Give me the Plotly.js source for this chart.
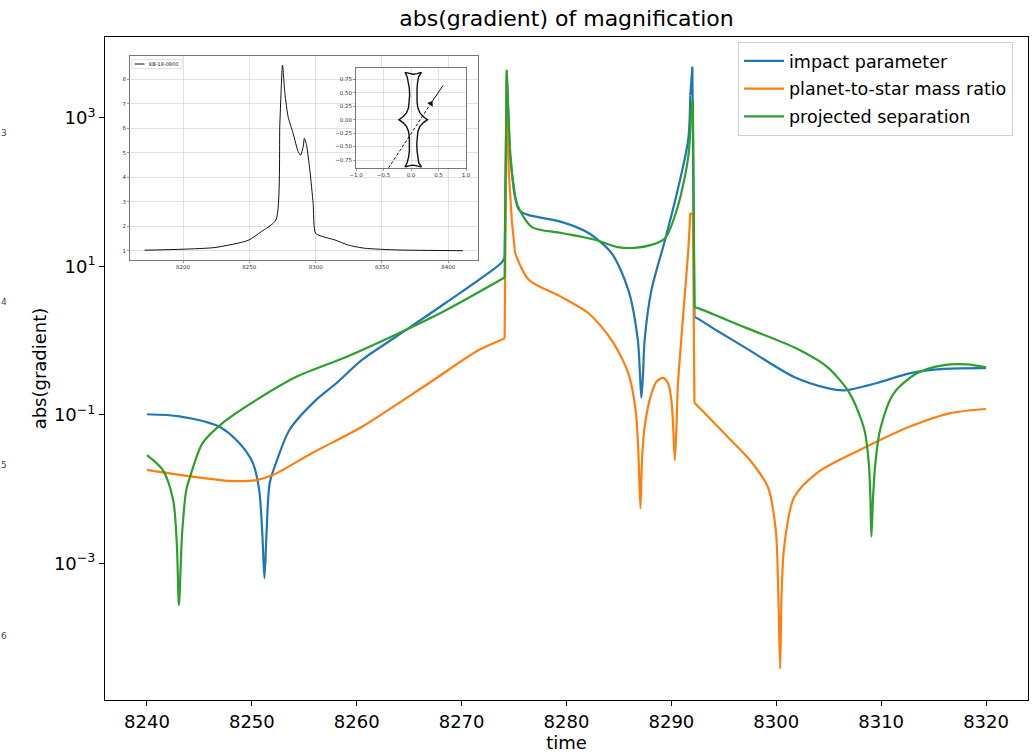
<!DOCTYPE html>
<html>
<head>
<meta charset="utf-8">
<script src="https://cdn.plot.ly/plotly-3.0.1.min.js"></script>
<style>
  html, body { margin: 0; padding: 0; background: #ffffff; }
  #chart { width: 1036px; height: 753px; }
</style>
</head>
<body>
<div id="chart"></div>
<script>
// |dA/dp| of the magnification for three lens parameters, sampled over time
const timeImpact = [8240, 8243.1, 8246.9, 8248.8, 8250.1, 8250.7, 8251.0, 8251.2, 8251.4, 8251.7,
  8252.3, 8253.6, 8256.1, 8258.0, 8260.5, 8263.7, 8268.5, 8273.8, 8274.1, 8274.3,
  8274.6, 8275.0, 8275.4, 8275.7, 8276.4, 8279.5, 8282.1, 8284.3, 8285.9, 8286.8,
  8287.0, 8287.14, 8287.3, 8287.45, 8288.1, 8289.4, 8290.6, 8291.6, 8291.8, 8292.0,
  8292.2, 8292.6, 8294.4, 8297.0, 8301.7, 8304.9, 8306.5, 8309.6, 8312.7, 8316.0, 8320];
const gradImpact = [0.102, 0.0955, 0.0692, 0.0417, 0.0224, 0.00977, 0.00251, 0.000631, 0.00251, 0.0120,
  0.0224, 0.0631, 0.158, 0.263, 0.550, 1.12, 3.24, 11.2, 13.2, 3981,
  316, 100, 60.3, 53.7, 49.0, 39.8, 28.2, 15.1, 4.79, 1.02,
  0.363, 0.170, 0.363, 1.02, 4.79, 22.9, 107, 501, 1995, 4898,
  2.09, 1.95, 1.35, 0.813, 0.324, 0.229, 0.214, 0.269, 0.363, 0.417, 0.427];

const timeMassRatio = [8240, 8244.7, 8247.9, 8250.4, 8252.0, 8255.8, 8260.5, 8266.9, 8271.6, 8274.1,
  8274.3, 8274.5, 8274.8, 8275.1, 8276.4, 8279.5, 8282.1, 8284.3, 8285.9, 8286.6,
  8286.85, 8287.05, 8287.2, 8287.45, 8288.1, 8288.6, 8289.2, 8289.7, 8290.0, 8290.15,
  8290.33, 8290.5, 8290.62, 8291.1, 8291.6, 8291.8, 8292.05, 8292.2, 8292.6, 8295.4,
  8297.5, 8299.2, 8299.95, 8300.2, 8300.37, 8300.5, 8300.75, 8301.7, 8303.9, 8308.0,
  8312.7, 8316.5, 8320];
const gradMassRatio = [0.0182, 0.0145, 0.0129, 0.0132, 0.0155, 0.0309, 0.0692, 0.269, 0.741, 1.07,
  3162, 182, 39.8, 15.1, 6.61, 3.89, 2.34, 1.02, 0.363, 0.112,
  0.0316, 0.00550, 0.0251, 0.0692, 0.195, 0.282, 0.316, 0.263, 0.158, 0.0794,
  0.0245, 0.0794, 0.251, 2.0, 15.8, 52.5, 50.1, 0.145, 0.128, 0.0501,
  0.0245, 0.0107, 0.00282, 0.000355, 0.0000380, 0.000355, 0.00166, 0.00776, 0.0166, 0.0339,
  0.0692, 0.105, 0.120];

const timeSeparation = [8240, 8241.5, 8242.5, 8242.85, 8243.05, 8243.35, 8243.75, 8244.1, 8245.3, 8247.2,
  8250.4, 8254.2, 8259.0, 8263.7, 8268.5, 8274.1, 8274.3, 8274.6, 8274.8, 8275.1,
  8275.4, 8276.7, 8279.5, 8282.7, 8284.9, 8286.5, 8288.1, 8289.4, 8290.6, 8291.6,
  8291.9, 8292.05, 8292.2, 8292.6, 8297.0, 8301.7, 8304.9, 8307.0, 8308.4, 8308.82,
  8308.97, 8309.07, 8309.23, 8309.45, 8309.9, 8311.2, 8313.4, 8316.0, 8318.2, 8320];
const gradSeparation = [0.0288, 0.0182, 0.00708, 0.00178, 0.000275, 0.00251, 0.00977, 0.0145, 0.0417, 0.0776,
  0.158, 0.324, 0.603, 1.20, 2.57, 7.08, 4467, 398, 182, 87.1,
  63.1, 33.9, 28.2, 22.9, 18.2, 17.8, 19.5, 24.0, 63.1, 295,
  1413, 1738, 2.82, 2.72, 1.51, 0.813, 0.437, 0.195, 0.0631, 0.0224,
  0.00794, 0.00229, 0.00794, 0.0224, 0.0631, 0.195, 0.363, 0.468, 0.479, 0.437];

const seriesNames = ['impact parameter', 'planet-to-star mass ratio', 'projected separation'];
const xTicks = [8240, 8250, 8260, 8270, 8280, 8290, 8300, 8310, 8320];
const yTicks = [1e-3, 1e-1, 1e1, 1e3];
const yTickText = ['10<sup>\u22123</sup>', '10<sup>\u22121</sup>', '10<sup>1</sup>', '10<sup>3</sup>'];

// Light curve of the event (inset)
const lcTime = [8171, 8200, 8224, 8249, 8259, 8270, 8273, 8275, 8276.8, 8279.2,
  8283, 8286.8, 8288.6, 8290.6, 8291.4, 8293.1, 8295.6, 8298.1, 8299.9, 8307,
  8314.5, 8324.5, 8337, 8362, 8411];
const lcMag = [1.02, 1.06, 1.13, 1.42, 1.78, 2.25, 6.2, 8.58, 7.42, 6.47,
  5.79, 5.04, 4.9, 5.24, 5.59, 5.31, 4.29, 2.93, 1.71, 1.55,
  1.44, 1.23, 1.1, 1.03, 1.0];
const lcName = 'KB-18-0800';
const lcXTicks = [8200, 8250, 8300, 8350, 8400];
const lcYTicks = [1, 2, 3, 4, 5, 6, 7, 8];

// Caustic curve and source trajectory (inset)
const causticX = [-0.11, -0.03, 0.04, 0.11, 0.19, 0.14, 0.12, 0.11, 0.105, 0.11, 0.125, 0.16, 0.22, 0.30,
  0.22, 0.16, 0.125, 0.11, 0.105, 0.11, 0.12, 0.14, 0.19, 0.11, 0.04, -0.03, -0.11,
  -0.07, -0.045, -0.03, -0.025, -0.03, -0.045, -0.08, -0.14, -0.22,
  -0.14, -0.08, -0.045, -0.03, -0.025, -0.03, -0.045, -0.07, -0.11];
const causticY = [0.88, 0.855, 0.845, 0.855, 0.88, 0.80, 0.70, 0.58, 0.45, 0.33, 0.22, 0.13, 0.06, 0.0,
  -0.06, -0.13, -0.22, -0.33, -0.45, -0.58, -0.70, -0.80, -0.88, -0.855, -0.845, -0.855, -0.88,
  -0.80, -0.70, -0.58, -0.45, -0.33, -0.22, -0.13, -0.06, 0.0,
  0.06, 0.13, 0.22, 0.33, 0.45, 0.58, 0.70, 0.80, 0.88];
const pathBeforeX = [-0.41, 0.36];
const pathBeforeY = [-0.90, 0.30];
const pathAfterX = [0.36, 0.58];
const pathAfterY = [0.30, 0.63];
const causticXTicks = [-1, -0.5, 0, 0.5, 1];
const causticXText = ['\u22121.0', '\u22120.5', '0.0', '0.5', '1.0'];
const causticYTicks = [-0.75, -0.5, -0.25, 0, 0.25, 0.5, 0.75];
const causticYText = ['\u22120.75', '\u22120.50', '\u22120.25', '0.00', '0.25', '0.50', '0.75'];

const sideDigits = ['3', '4', '5', '6'];

// ---- page geometry (pixels) ----
const W = 1036, H = 753;
const M = { l: 105, r: 8, t: 37, b: 53 };
const PW = W - M.l - M.r, PH = H - M.t - M.b;
const fx = px => (px - M.l) / PW;
const fy = py => (H - M.b - py) / PH;

const FONT = 'DejaVu Sans, Verdana, sans-serif';
const colors = ['#1f77b4', '#ff7f0e', '#2ca02c'];

// Time windows around the two caustic crossings are drawn with straight
// segments (the curve is nearly vertical there); elsewhere a smooth spline.
const straightWindows = [[8273.9, 8275.2], [8291.75, 8292.3]];
const inStraight = t => straightWindows.some(w => t >= w[0] && t <= w[1]);

function pieces(t, v) {
  const out = [];
  let start = 0;
  for (let i = 0; i < t.length - 1; i++) {
    const seg = inStraight(t[i]) && inStraight(t[i + 1]);
    const nextSeg = i + 1 < t.length - 1 ? (inStraight(t[i + 1]) && inStraight(t[i + 2])) : null;
    if (nextSeg === null || nextSeg !== seg) {
      out.push({ x: t.slice(start, i + 2), y: v.slice(start, i + 2), straight: seg });
      start = i + 1;
    }
  }
  return out;
}

const mainSeries = [[timeImpact, gradImpact], [timeMassRatio, gradMassRatio], [timeSeparation, gradSeparation]];
const traces = [];
mainSeries.forEach((s, i) => {
  pieces(s[0], s[1]).forEach((p, k) => {
    traces.push({
      type: 'scatter', mode: 'lines', x: p.x, y: p.y, name: seriesNames[i],
      legendgroup: 'g' + i, showlegend: k === 0,
      line: p.straight ? { color: colors[i], width: 2.2 }
                       : { color: colors[i], width: 2.2, shape: 'spline', smoothing: 0.8 },
      xaxis: 'x', yaxis: 'y', hoverinfo: 'skip'
    });
  });
});

traces.push({
  type: 'scatter', mode: 'lines', x: lcTime, y: lcMag, name: lcName, showlegend: false,
  line: { color: '#111', width: 1, shape: 'spline', smoothing: 0.6 },
  xaxis: 'x2', yaxis: 'y2', hoverinfo: 'skip'
});
traces.push({
  type: 'scatter', mode: 'lines', x: causticX, y: causticY, showlegend: false,
  line: { color: '#111', width: 1.4 }, xaxis: 'x3', yaxis: 'y3', hoverinfo: 'skip'
});
traces.push({
  type: 'scatter', mode: 'lines', x: pathBeforeX, y: pathBeforeY, showlegend: false,
  line: { color: '#111', width: 1, dash: '3px,2px' }, xaxis: 'x3', yaxis: 'y3', hoverinfo: 'skip'
});
traces.push({
  type: 'scatter', mode: 'lines', x: pathAfterX, y: pathAfterY, showlegend: false,
  line: { color: '#111', width: 1 }, xaxis: 'x3', yaxis: 'y3', hoverinfo: 'skip'
});
traces.push({
  type: 'scatter', mode: 'markers', x: [pathBeforeX[1]], y: [pathBeforeY[1]], showlegend: false,
  marker: { symbol: 'triangle-up', size: 6, color: '#111', angle: 33 },
  xaxis: 'x3', yaxis: 'y3', hoverinfo: 'skip'
});

const insetAxis = {
  showgrid: true, gridcolor: '#d9d9d9', gridwidth: 0.8, zeroline: false,
  showline: true, mirror: true, linecolor: '#555', linewidth: 0.8,
  ticks: 'outside', ticklen: 2, tickwidth: 0.6, tickcolor: '#555',
  tickfont: { size: 5.5, color: '#333', family: FONT }
};

const layout = {
  width: W, height: H,
  margin: M,
  paper_bgcolor: '#ffffff', plot_bgcolor: '#ffffff',
  font: { family: FONT, color: '#000' },
  title: {
    text: 'abs(gradient) of magnification',
    font: { size: 22, family: FONT, color: '#000' },
    x: (M.l + PW / 2) / W, xanchor: 'center', xref: 'container',
    y: 1 - 18 / H, yanchor: 'middle', yref: 'container'
  },
  showlegend: true,
  legend: {
    x: fx(1013), xanchor: 'right', y: fy(42), yanchor: 'top',
    bgcolor: '#ffffff', bordercolor: '#d0d0d0', borderwidth: 1,
    font: { size: 17.5, family: FONT, color: '#000' },
    tracegroupgap: 2, traceorder: 'grouped', itemwidth: 40
  },
  xaxis: {
    domain: [0, 1], anchor: 'y', range: [8236, 8324],
    tickvals: xTicks, ticktext: xTicks.map(String),
    ticks: 'outside', ticklen: 5, tickwidth: 1, tickcolor: '#000',
    tickfont: { size: 18, family: FONT, color: '#000' },
    showline: true, mirror: true, linecolor: '#000', linewidth: 1,
    showgrid: false, zeroline: false,
    title: { text: 'time', font: { size: 18, family: FONT, color: '#000' }, standoff: 4 }
  },
  yaxis: {
    domain: [0, 1], anchor: 'x', type: 'log', range: [-4.84, 4.09],
    tickvals: yTicks, ticktext: yTickText,
    ticks: 'outside', ticklen: 5, tickwidth: 1, tickcolor: '#000',
    tickfont: { size: 18, family: FONT, color: '#000' },
    showline: true, mirror: true, linecolor: '#000', linewidth: 1,
    showgrid: false, zeroline: false,
    title: { text: 'abs(gradient)', font: { size: 18, family: FONT, color: '#000' }, standoff: 2 }
  },
  xaxis2: Object.assign({}, insetAxis, {
    domain: [fx(130), fx(478)], anchor: 'y2', range: [8160, 8422.4],
    tickvals: lcXTicks, ticktext: lcXTicks.map(String)
  }),
  yaxis2: Object.assign({}, insetAxis, {
    domain: [fy(260), fy(56)], anchor: 'x2', range: [0.62, 8.95],
    tickvals: lcYTicks, ticktext: lcYTicks.map(String)
  }),
  xaxis3: Object.assign({}, insetAxis, {
    domain: [fx(356), fx(466)], anchor: 'y3', range: [-1, 1],
    tickvals: causticXTicks, ticktext: causticXText
  }),
  yaxis3: Object.assign({}, insetAxis, {
    domain: [fy(167.7), fy(67.7)], anchor: 'x3', range: [-0.893, 0.966],
    tickvals: causticYTicks, ticktext: causticYText
  }),
  shapes: [
    // white panel under the caustic inset
    { type: 'rect', xref: 'x3', yref: 'y3', x0: -1, x1: 1, y0: -0.893, y1: 0.966,
      fillcolor: '#ffffff', line: { width: 0 }, layer: 'below' },
    // light-curve legend box
    { type: 'rect', xref: 'paper', yref: 'paper', x0: fx(131.5), x1: fx(182), y0: fy(68.5), y1: fy(59.5),
      fillcolor: '#ffffff', line: { color: '#d0d0d0', width: 0.6 }, layer: 'above' },
    { type: 'line', xref: 'paper', yref: 'paper', x0: fx(134.5), x1: fx(144.5), y0: fy(64), y1: fy(64),
      line: { color: '#111', width: 1 }, layer: 'above' }
  ],
  annotations: [
    { xref: 'paper', yref: 'paper', x: fx(147), y: fy(64), xanchor: 'left', yanchor: 'middle',
      text: lcName, showarrow: false, font: { size: 5, color: '#222', family: FONT } }
  ].concat(sideDigits.map((d, i) => ({
    xref: 'paper', yref: 'paper', x: fx(-1), y: fy([133, 302, 465, 636][i]),
    xanchor: 'left', yanchor: 'middle', text: d, showarrow: false,
    font: { size: 9, color: '#444', family: FONT }
  })))
};

Plotly.newPlot('chart', traces, layout, { displayModeBar: false, staticPlot: true });
</script>
</body>
</html>
